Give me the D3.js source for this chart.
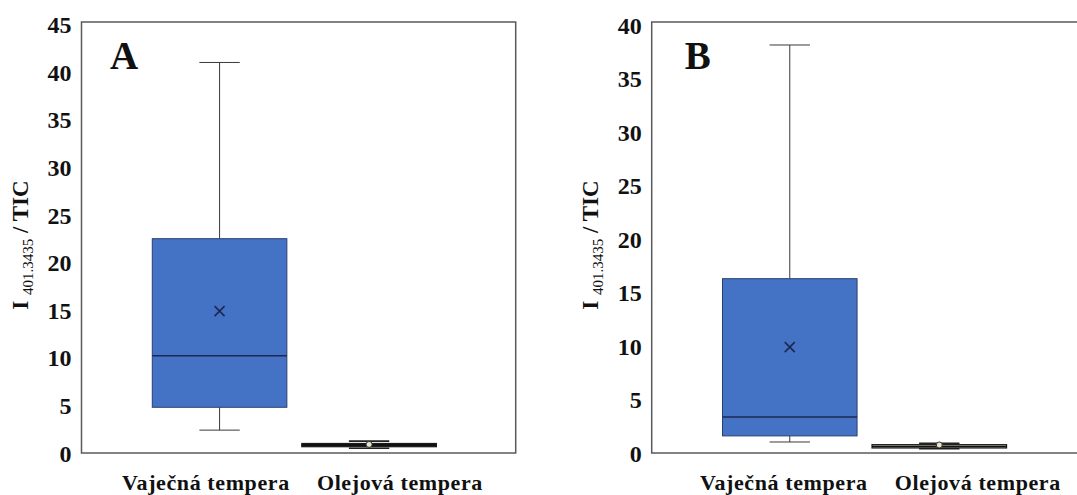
<!DOCTYPE html>
<html>
<head>
<meta charset="utf-8">
<script src="https://cdn.jsdelivr.net/npm/d3@7/dist/d3.min.js"></script>
<style>
  html, body { margin: 0; padding: 0; background: #fff; }
  svg { display: block; }
  text { font-family: "Liberation Serif", "Times New Roman", serif; }
</style>
</head>
<body>
<svg id="chart" width="1077" height="495"></svg>
<script>
// ---------- data ----------
const categories = ["Vaječná tempera", "Olejová tempera"];

// Panel A
const aMin    = [2.4, 0.5];
const aQ1     = [4.8, 0.66];
const aMedian = [10.2, 0.82];
const aQ3     = [22.5, 1.0];
const aMax    = [41.0, 1.25];
const aMean   = [14.9, 0.9];
const aTicks  = [0, 5, 10, 15, 20, 25, 30, 35, 40, 45];

// Panel B
const bMin    = [1.03, 0.4];
const bQ1     = [1.6, 0.47];
const bMedian = [3.37, 0.6];
const bQ3     = [16.3, 0.78];
const bMax    = [38.15, 0.9];
const bMean   = [9.9, 0.75];
const bTicks  = [0, 5, 10, 15, 20, 25, 30, 35, 40];

// ---------- layout / style ----------
const plotW = 434.2, plotH = 431, plotTop = 22;
const panels = [
  { letter: "A", left: 81.5, yMax: 45.25, ticks: aTicks,
    min: aMin, q1: aQ1, med: aMedian, q3: aQ3, max: aMax, mean: aMean,
    oilFill: "#141414", letterDx: 28.5, labelAlign: 0.518 },
  { letter: "B", left: 651.7, yMax: 40.3, ticks: bTicks,
    min: bMin, q1: bQ1, med: bMedian, q3: bQ3, max: bMax, mean: bMean,
    oilFill: "#c4bea6", letterDx: 33, labelAlign: 0.55 }
];
const boxFills = ["#4472C4", null];
const boxStrokes = ["#2A3F6E", "#1a1a1a"];

const svg = d3.select("#chart");

panels.forEach(p => {
  const g = svg.append("g").attr("transform", `translate(${p.left},${plotTop})`);

  const x = d3.scalePoint().domain(categories).range([0, plotW]).padding(0.952).align(0.485);
  const xl = d3.scalePoint().domain(categories).range([0, plotW]).padding(0.619).align(p.labelAlign);
  const y = d3.scaleLinear().domain([0, p.yMax]).range([plotH, 0]);
  const step = x.step();
  const bw = step * 0.9;
  const capW = step * 0.27;

  // y axis labels
  const ax = g.append("g")
    .call(d3.axisLeft(y).tickValues(p.ticks).tickSize(0).tickPadding(10).tickFormat(d3.format("d")));
  ax.select(".domain").remove();
  ax.selectAll("text")
    .attr("font-family", "Liberation Serif, serif")
    .attr("font-size", 24)
    .attr("font-weight", "bold")
    .attr("fill", "#111")
    .attr("dy", "0.34em");

  // frame
  g.append("rect")
    .attr("x", 0).attr("y", 0)
    .attr("width", plotW).attr("height", plotH)
    .attr("fill", "none")
    .attr("stroke", "#5a5a5a")
    .attr("stroke-width", 1.5);

  categories.forEach((c, i) => {
    const cx = x(c);
    const isOil = i === 1;
    const wStroke = isOil ? "#222" : "#3a3a3a";
    // whiskers
    g.append("line")
      .attr("x1", cx).attr("x2", cx)
      .attr("y1", y(p.max[i])).attr("y2", y(p.q3[i]))
      .attr("stroke", wStroke).attr("stroke-width", 1);
    g.append("line")
      .attr("x1", cx).attr("x2", cx)
      .attr("y1", y(p.q1[i])).attr("y2", y(p.min[i]))
      .attr("stroke", wStroke).attr("stroke-width", 1);
    [p.max[i], p.min[i]].forEach(v => {
      g.append("line")
        .attr("x1", cx - capW / 2).attr("x2", cx + capW / 2)
        .attr("y1", y(v)).attr("y2", y(v))
        .attr("stroke", wStroke).attr("stroke-width", isOil ? 1.6 : 1);
    });
    // box
    g.append("rect")
      .attr("x", cx - bw / 2)
      .attr("y", y(p.q3[i]))
      .attr("width", bw)
      .attr("height", Math.max(1, y(p.q1[i]) - y(p.q3[i])))
      .attr("fill", isOil ? p.oilFill : boxFills[i])
      .attr("stroke", boxStrokes[i])
      .attr("stroke-width", isOil ? 1.2 : 1);
    // median
    g.append("line")
      .attr("x1", cx - bw / 2).attr("x2", cx + bw / 2)
      .attr("y1", y(p.med[i])).attr("y2", y(p.med[i]))
      .attr("stroke", isOil ? "#111" : "#1c2850")
      .attr("stroke-width", 1.5);
    // mean marker
    const my = y(p.mean[i]);
    if (!isOil) {
      const s = 5;
      g.append("path")
        .attr("d", `M${cx - s},${my - s}L${cx + s},${my + s}M${cx - s},${my + s}L${cx + s},${my - s}`)
        .attr("stroke", "#1c2850").attr("stroke-width", 1.6).attr("fill", "none");
    } else {
      g.append("circle")
        .attr("cx", cx).attr("cy", my).attr("r", 3)
        .attr("fill", "#e9e4cf").attr("stroke", "#333").attr("stroke-width", 1);
    }
  });

  // category labels
  g.selectAll("text.cat")
    .data(categories)
    .join("text")
    .attr("class", "cat")
    .attr("x", d => xl(d))
    .attr("y", 490 - plotTop)
    .attr("text-anchor", "middle")
    .attr("font-size", 22)
    .attr("font-weight", "bold")
    .attr("letter-spacing", "0.6px")
    .attr("fill", "#111")
    .text(d => d);

  // panel letter
  g.append("text")
    .attr("x", p.letterDx)
    .attr("y", 69 - plotTop)
    .attr("font-size", 39)
    .attr("font-weight", "bold")
    .attr("fill", "#111")
    .text(p.letter);

  // y axis title
  const t = g.append("text")
    .attr("transform", `translate(-53.5,${245 - plotTop}) rotate(-90)`)
    .attr("text-anchor", "middle")
    .attr("font-size", 23)
    .attr("font-weight", "bold")
    .attr("fill", "#111");
  t.append("tspan").text("I ");
  t.append("tspan").attr("font-size", 15).attr("font-weight", "normal").attr("dy", 5).text("401.3435");
  t.append("tspan").attr("dy", -5).text(" / TIC");
});
</script>
</body>
</html>
